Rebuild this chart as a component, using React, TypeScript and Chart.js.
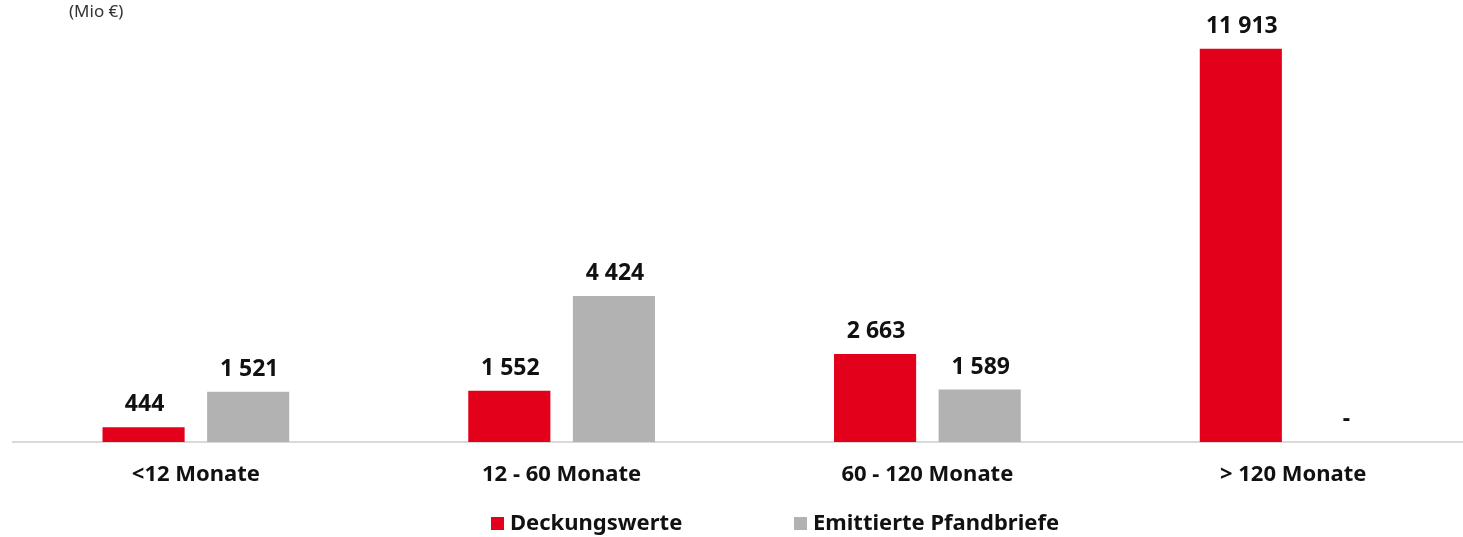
import React, { useEffect, useRef } from "react";
import { Chart, registerables } from "chart.js";

Chart.register(...registerables);

const categories = ["<12 Monate", "12 - 60 Monate", "60 - 120 Monate", "> 120 Monate"];
const deckungswerte = [444, 1552, 2663, 11913];
const pfandbriefe = [1521, 4424, 1589, 0];
const seriesNames = ["Deckungswerte", "Emittierte Pfandbriefe"];
const unitLabel = "(Mio €)";

const RED = "#E2001A";
const GRAY = "#B2B2B2";
const FONT = "'Noto Sans', 'DejaVu Sans', sans-serif";

function fmt(v: number): string {
  if (!v) return "-";
  return String(v).replace(/\B(?=(\d{3})+(?!\d))/g, " ");
}

const labelsPlugin = {
  id: "valueLabels",
  afterDatasetsDraw(chart: any) {
    const ctx = chart.ctx;
    ctx.save();
    ctx.font = `bold 23px ${FONT}`;
    ctx.fillStyle = "#111";
    ctx.textAlign = "center";
    ctx.textBaseline = "alphabetic";
    chart.data.datasets.forEach((ds: any, di: number) => {
      const meta = chart.getDatasetMeta(di);
      meta.data.forEach((bar: any, i: number) => {
        ctx.fillText(fmt(ds.data[i]), bar.x + 1, bar.y - 16);
      });
    });
    ctx.restore();
  },
};

const extrasPlugin = {
  id: "extras",
  afterDraw(chart: any) {
    const ctx = chart.ctx;
    ctx.save();
    ctx.font = `17px ${FONT}`;
    ctx.fillStyle = "#333";
    ctx.textAlign = "left";
    ctx.textBaseline = "middle";
    ctx.fillText(unitLabel, 69, 12);
    const items = [
      { x: 491, color: RED, text: seriesNames[0] },
      { x: 794, color: GRAY, text: seriesNames[1] },
    ];
    ctx.font = `bold 22px ${FONT}`;
    items.forEach((it) => {
      ctx.fillStyle = it.color;
      ctx.fillRect(it.x, 517, 13, 13);
      ctx.fillStyle = "#111";
      ctx.fillText(it.text, it.x + 19, 524);
    });
    ctx.restore();
  },
};

export default function App() {
  const ref = useRef<HTMLCanvasElement | null>(null);
  useEffect(() => {
    if (!ref.current) return;
    const chart = new Chart(ref.current, {
      type: "bar",
      data: {
        labels: categories,
        datasets: [
          { label: seriesNames[0], data: deckungswerte, backgroundColor: RED, categoryPercentage: 0.572, barPercentage: 0.785 },
          { label: seriesNames[1], data: pfandbriefe, backgroundColor: GRAY, categoryPercentage: 0.572, barPercentage: 0.785 },
        ],
      },
      options: {
        animation: false,
        responsive: false,
        maintainAspectRatio: false,
        layout: { padding: { top: 13, left: 13, right: 0, bottom: 0 } },
        plugins: { legend: { display: false }, tooltip: { enabled: false } },
        scales: {
          x: {
            grid: { display: false, drawTicks: false },
            border: { display: true, color: "#d9d9d9", width: 2 },
            ticks: { font: { family: FONT, size: 22, weight: "bold" }, color: "#111", padding: 20 },
            afterFit: (scale: any) => {
              scale.height = 95;
            },
          },
          y: { display: false, min: 0, max: 13000 },
        },
      },
      plugins: [labelsPlugin, extrasPlugin],
    } as any);
    return () => chart.destroy();
  }, []);
  return (
    <div style={{ position: "fixed", left: 0, top: 0, width: 1463, height: 537, overflow: "hidden", background: "#fff" }}>
      <canvas ref={ref} width={1476} height={537} style={{ width: 1476, height: 537, display: "block" }} />
    </div>
  );
}
